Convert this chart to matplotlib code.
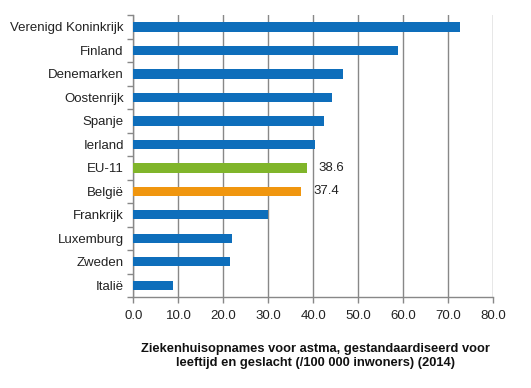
import matplotlib
matplotlib.use("Agg")
import matplotlib.pyplot as plt
import numpy as np

categories = ["Verenigd Koninkrijk", "Finland", "Denemarken", "Oostenrijk", "Spanje",
              "Ierland", "EU-11", "België", "Frankrijk", "Luxemburg", "Zweden", "Italië"]
values = [72.7, 59.0, 46.7, 44.3, 42.4, 40.5, 38.6, 37.4, 30.0, 22.0, 21.6, 8.9]
highlight_labels = {"EU-11": "38.6", "België": "37.4"}
xticks = [0, 10, 20, 30, 40, 50, 60, 70, 80]
xlabel = "Ziekenhuisopnames voor astma, gestandaardiseerd voor\nleeftijd en geslacht (/100 000 inwoners) (2014)"

blue = "#0E6EBB"
green = "#80B52A"
orange = "#F0960F"
colors = [green if c == "EU-11" else orange if c == "België" else blue for c in categories]

plt.rcParams['font.family'] = ['Liberation Sans', 'DejaVu Sans']

fig = plt.figure(figsize=(5.31, 3.88), dpi=100)
ax = fig.add_axes([0.2514, 0.2345, 0.928 - 0.2514, 0.961 - 0.2345])

y = np.arange(len(categories))
ax.barh(y, values, height=0.4, color=colors, zorder=3)
ax.set_ylim(len(categories) - 0.5, -0.5)
ax.set_xlim(0, 80)

for yi, (c, v) in zip(y, zip(categories, values)):
    if c in highlight_labels:
        ax.text(v + 2.6, yi, highlight_labels[c], va="center", ha="left", fontsize=9.5, color="#222222")

ax.set_xticks(xticks)
ax.set_xticklabels([f"{t:.1f}" for t in xticks], fontsize=9.5, color="#222222")
ax.set_yticks(y)
ax.set_yticklabels(categories, fontsize=9.5, color="#222222")
ax.set_yticks(np.arange(len(categories) + 1) - 0.5, minor=True)

ax.tick_params(axis="y", which="major", length=0, pad=7)
ax.tick_params(axis="y", which="minor", length=4, color="#888888", width=1)
ax.tick_params(axis="x", which="major", length=4, color="#888888", width=1, pad=5)

ax.grid(axis="x", color="#888888", linewidth=1, zorder=0)
for s in ["top", "right"]:
    ax.spines[s].set_visible(False)
for s in ["left", "bottom"]:
    ax.spines[s].set_color("#888888")
    ax.spines[s].set_linewidth(1)

fig.text(0.594, 0.0825, xlabel, ha="center", va="center", fontsize=9.3,
         fontweight="bold", linespacing=1.2, color="#111111")

fig.savefig("out.png", dpi=100)
